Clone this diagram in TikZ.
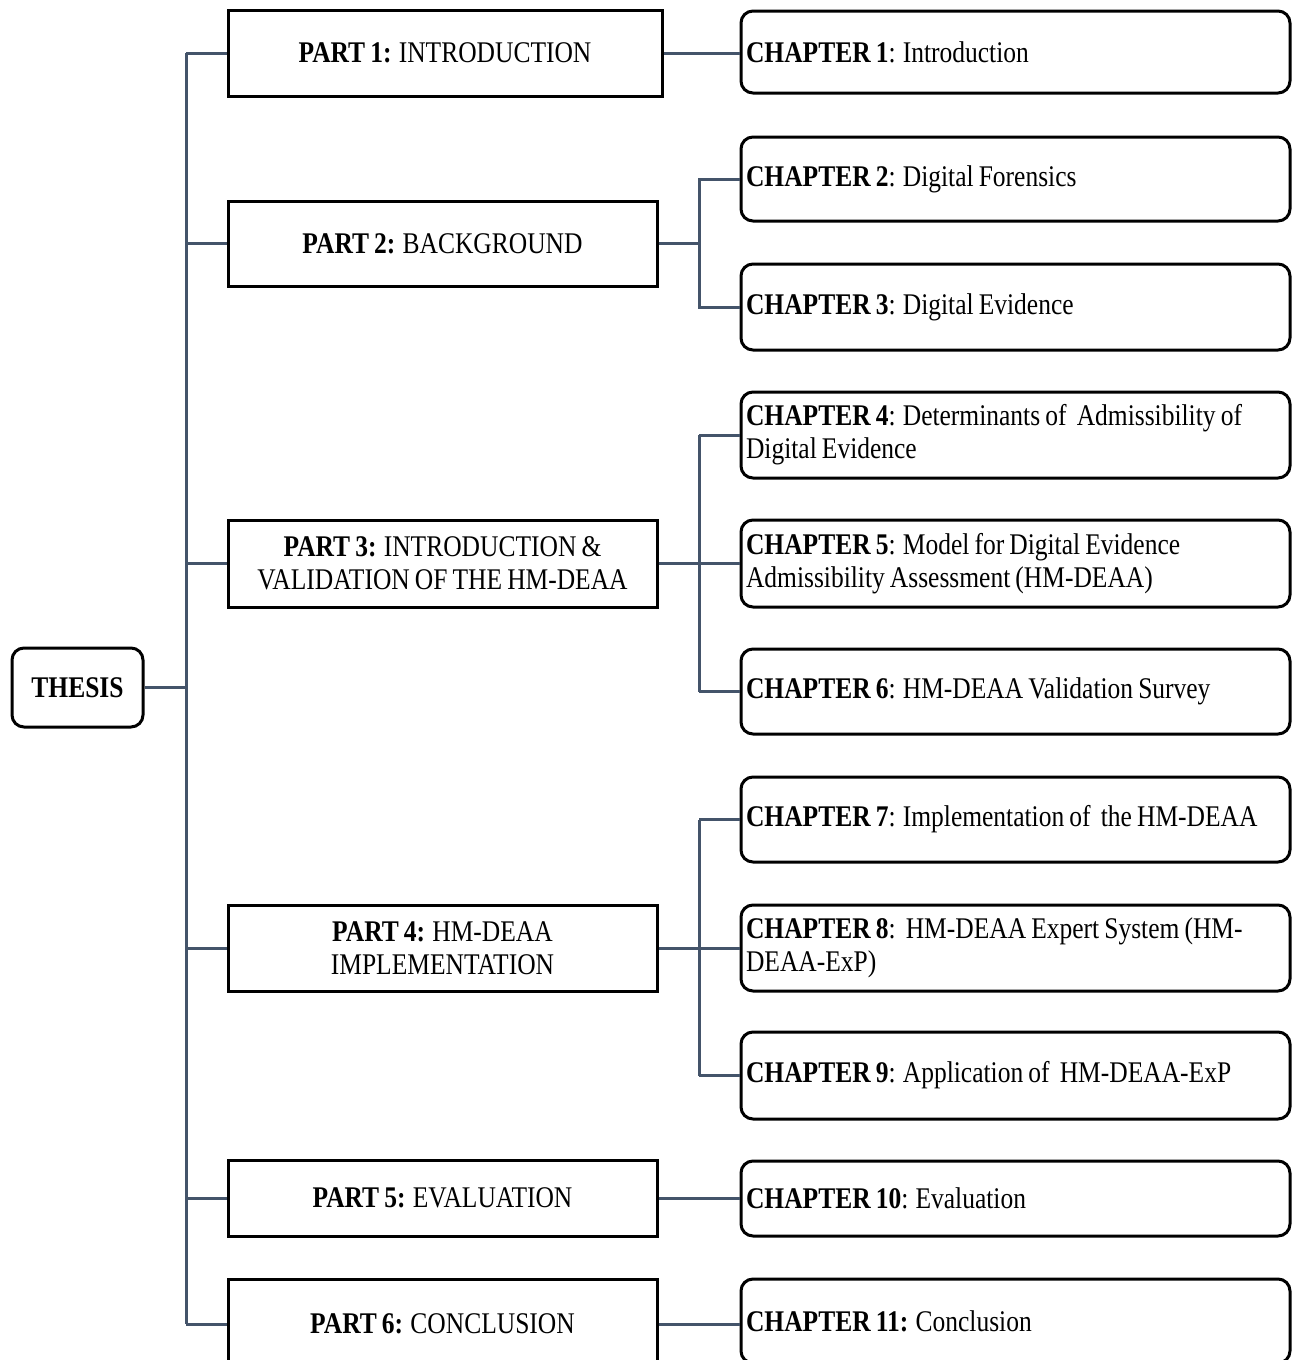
\documentclass[tikz,border=0pt]{standalone}
\usepackage{fontspec}
\setmainfont{Liberation Serif}[FakeStretch=0.85, WordSpace=0.8]
\definecolor{linkcol}{HTML}{44546A}

\begin{document}
\begin{tikzpicture}[x=1pt,y=-1pt,
  txt/.style={font=\fontsize{30}{33}\selectfont},
  partbox/.style={txt, draw=black, line width=3pt, align=center,
    minimum width=429pt, inner sep=0pt},
  chapbox/.style={txt, draw=black, line width=3pt, rounded corners=12pt,
    minimum width=549pt, text width=539pt, align=flush left, inner xsep=5pt, inner ysep=0pt},
  rootbox/.style={txt, draw=black, line width=3pt, rounded corners=12pt,
    minimum width=131pt, minimum height=79pt, inner sep=0pt},
  conn/.style={draw=linkcol, line width=3pt}
]
\clip (0,0) rectangle (1296,1360);

% root
\node[rootbox] (thesis) at (77.5,687.5) {\textbf{THESIS}};

% parts
\node[partbox, minimum width=434pt, minimum height=86pt] (p1) at (445,53) {\textbf{PART 1:} INTRODUCTION};
\node[partbox, minimum height=85pt] (p2) at (442.5,243.5) {\textbf{PART 2:} BACKGROUND};
\node[partbox, minimum height=87pt] (p3) at (442.5,563.5) {\textbf{PART 3:} INTRODUCTION \&\\VALIDATION OF THE HM-DEAA};
\node[partbox, minimum height=86pt] (p4) at (442.5,948) {\textbf{PART 4:} HM-DEAA\\IMPLEMENTATION};
\node[partbox, minimum height=76pt] (p5) at (442.5,1198) {\textbf{PART 5:} EVALUATION};
\node[partbox, minimum height=90pt] (p6) at (442.5,1324) {\textbf{PART 6:} CONCLUSION};

% chapters
\node[chapbox, minimum height=82pt] (c1) at (1015.5,52) {\textbf{CHAPTER 1}: Introduction};
\node[chapbox, minimum height=84pt] (c2) at (1015.5,179) {\textbf{CHAPTER 2}: Digital Forensics};
\node[chapbox, minimum height=86pt] (c3) at (1015.5,307) {\textbf{CHAPTER 3}: Digital Evidence};
\node[chapbox, minimum height=86pt] (c4) at (1015.5,435) {\textbf{CHAPTER 4}: Determinants of\ \ Admissibility of\\Digital Evidence};
\node[chapbox, minimum height=87pt] (c5) at (1015.5,563.5) {\textbf{CHAPTER 5}: Model for Digital Evidence\\Admissibility Assessment (HM-DEAA)};
\node[chapbox, minimum height=85pt] (c6) at (1015.5,691.5) {\textbf{CHAPTER 6}: HM-DEAA Validation Survey};
\node[chapbox, minimum height=85pt] (c7) at (1015.5,819.5) {\textbf{CHAPTER 7}: Implementation of\ \ the HM-DEAA};
\node[chapbox, minimum height=86pt] (c8) at (1015.5,948) {\textbf{CHAPTER 8}:\ \ HM-DEAA Expert System (HM-\\DEAA-ExP)};
\node[chapbox, minimum height=87pt] (c9) at (1015.5,1075.5) {\textbf{CHAPTER 9}: Application of\ \ HM-DEAA-ExP};
\node[chapbox, minimum height=75pt] (c10) at (1015.5,1198.5) {\textbf{CHAPTER 10}: Evaluation};
\node[chapbox, minimum height=84pt] (c11) at (1015.5,1321) {\textbf{CHAPTER 11:} Conclusion};

% spine from the root to the parts
\coordinate (spine) at (186,0);
\draw[conn] (thesis.east) -- (thesis.east -| spine);
\draw[conn] (p1.west -| spine) -- (p6.west -| spine);
\foreach \p in {p1,p2,p3,p4,p5,p6}
  \draw[conn] (\p.west -| spine) -- (\p.west);

% parts to chapters
\coordinate (fork) at (699,0);
\draw[conn] (p1.east) -- (p1.east -| c1.west);
\draw[conn] (p2.east) -- (p2.east -| fork) |- (c2.west);
\draw[conn] (p2.east -| fork) |- (c3.west);
\draw[conn] (p3.east) -- (c5.west);
\draw[conn] (c4.west -| fork) -- (c6.west -| fork);
\draw[conn] (c4.west -| fork) -- (c4.west);
\draw[conn] (c6.west -| fork) -- (c6.west);
\draw[conn] (p4.east) -- (c8.west);
\draw[conn] (c7.west -| fork) -- (c9.west -| fork);
\draw[conn] (c7.west -| fork) -- (c7.west);
\draw[conn] (c9.west -| fork) -- (c9.west);
\draw[conn] (p5.east) -- (p5.east -| c10.west);
\draw[conn] (p6.east) -- (p6.east -| c11.west);
\end{tikzpicture}
\end{document}
